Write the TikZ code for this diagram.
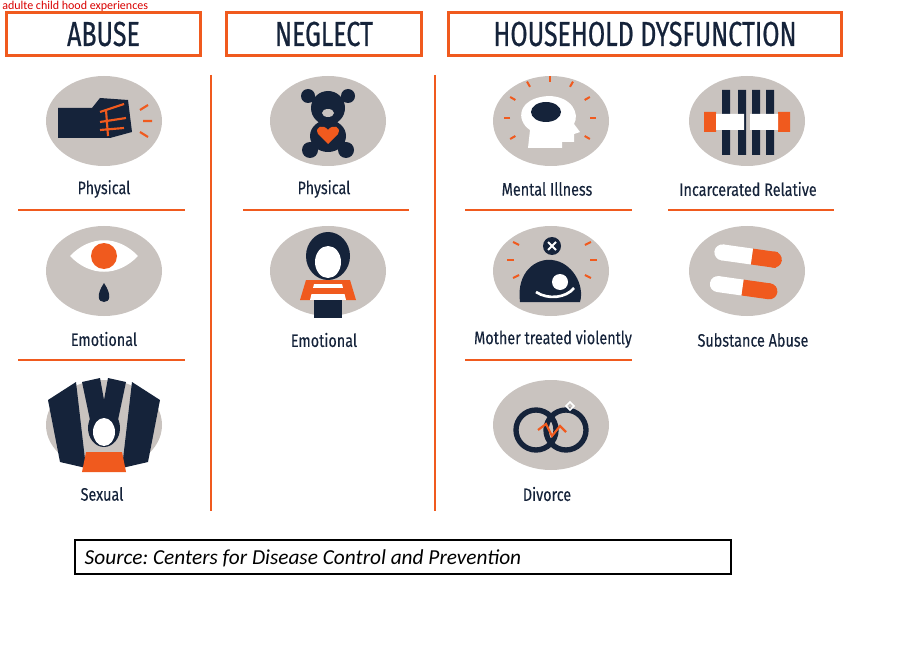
\documentclass[tikz,border=0pt]{standalone}
\usepackage{fontspec}
\newfontfamily\cond[FakeStretch=0.72,FakeBold=0.6]{Fira Sans}
\newfontfamily\condl[FakeStretch=0.8,FakeBold=0.15]{Fira Sans}
\newfontfamily\cali{Carlito}
\definecolor{og}{HTML}{F05A1E}
\definecolor{nv}{HTML}{15233A}
\definecolor{gy}{HTML}{C9C3BF}
\begin{document}
\begin{tikzpicture}[x=0.75pt,y=-0.75pt,
 hdr/.style={draw=og,line width=2.2pt,minimum height=32pt,inner sep=0pt,font=\cond\fontsize{26}{26}\selectfont,text=nv},
 lbl/.style={font=\condl\fontsize{13.5}{13.5}\selectfont,text=nv},
 ul/.style={draw=og,line width=1.8pt},
 vl/.style={draw=og,line width=2pt}]
\useasboundingbox (0,0) rectangle (909,652);
\fill[white] (0,0) rectangle (909,652);
\node[text=red!85!black,font=\cali\fontsize{9}{9}\selectfont,anchor=west,inner sep=0pt] (top) at (2,6) {adulte child hood experiences};
% headers
\node[hdr,minimum width=146pt] (h1) at (103.5,34) {ABUSE};
\node[hdr,minimum width=146pt] (h2) at (324,34) {NEGLECT};
\node[hdr,minimum width=295pt] (h3) at (645,34) {HOUSEHOLD DYSFUNCTION};
\draw[vl] (211,75) -- (211,511);
\draw[vl] (435,75) -- (435,511);
% discs
\foreach \n/\x/\y in {a1/104/121,a2/104/271,a3/104/425,n1/328/121,n2/328/271,d1/551/121,d2/551/271,d3/551/425,e1/747/121,e2/747/271}
  \fill[gy] (\x,\y) ellipse (58 and 45);
% labels
\node[lbl] (la1) at (104,189) {Physical};
\node[lbl] (la2) at (104,339) {Emotional};
\node[lbl] (la3) at (102,494) {Sexual};
\node[lbl] (ln1) at (324,189) {Physical};
\node[lbl] (ln2) at (324,340) {Emotional};
\node[lbl] (ld1) at (547,189) {Mental Illness};
\node[lbl] (ld2) at (553,339) {Mother treated violently};
\node[lbl] (ld3) at (547,494) {Divorce};
\node[lbl] (le1) at (748,189) {Incarcerated Relative};
\node[lbl] (le2) at (753,340) {Substance Abuse};
% underlines
\draw[ul] (18,210) -- (185,210); \draw[ul] (18,360) -- (185,360);
\draw[ul] (243,210) -- (409,210);
\draw[ul] (465,210) -- (632,210); \draw[ul] (465,360) -- (632,360);
\draw[ul] (668,210) -- (834,210);
% icon: fist
\fill[nv] (58,108) -- (92,108) -- (100,98) -- (128,100) -- (132,132) -- (110,138) -- (58,138) -- cycle;
\draw[og,line width=1.6pt] (100,112) -- (124,104) (100,122) -- (126,118) (100,130) -- (124,128) (106,110) -- (108,136);
\draw[og,line width=1.6pt] (140,110) -- (148,105) (143,121) -- (152,121) (140,132) -- (148,137);
% icon: eye
\fill[white] (70,256) .. controls (90,235) and (118,235) .. (138,256) .. controls (118,277) and (90,277) .. (70,256);
\fill[og] (104,256) circle (13);
\fill[nv] (104,283) .. controls (96,295) and (98,302) .. (104,302) .. controls (110,302) and (112,295) .. (104,283);
% icon: sexual
\fill[nv] (48,400) -- (76,382) -- (86,468) -- (60,462) -- cycle;
\fill[nv] (160,400) -- (132,382) -- (122,468) -- (148,462) -- cycle;
\fill[nv] (82,382) -- (100,378) -- (104,400) -- (108,378) -- (126,382) -- (118,420) -- (90,420) -- cycle;
\fill[nv] (104,428) ellipse (16 and 19);
\fill[white] (104,432) ellipse (11 and 14);
\fill[og] (82,472) -- (86,452) -- (122,452) -- (126,472) -- cycle;
% icon: teddy
\fill[nv] (308,96) circle (7) (348,96) circle (7) (328,108) circle (17) (328,136) ellipse (18 and 16) (310,150) circle (8) (346,150) circle (8);
\fill[gy] (328,113) ellipse (6 and 4);
\fill[og] (328,144) -- (318,134) .. controls (314,126) and (324,124) .. (328,130) .. controls (332,124) and (342,126) .. (338,134) -- cycle;
% icon: emotional neglect
\fill[nv] (328,256) ellipse (22 and 24);
\fill[white] (328,262) ellipse (13 and 16);
\fill[og] (300,300) -- (306,280) -- (350,280) -- (356,300) -- cycle;
\fill[white] (310,300) -- (314,284) -- (342,284) -- (346,300) -- cycle;
\fill[og] (304,288) rectangle (352,294);
\fill[nv] (314,300) rectangle (342,318);
% icon: mental illness
\fill[white] (528,148) -- (530,130) .. controls (515,120) and (518,98) .. (548,96) .. controls (572,96) and (580,114) .. (574,124) -- (580,132) -- (574,134) -- (574,142) -- (562,142) -- (562,148) -- cycle;
\fill[nv] (546,112) ellipse (15 and 10);
\foreach \a in {150,180,210,30,0,-30,90,120,60} \draw[og,line width=1.5pt] ({550+40*cos(\a)},{118-36*sin(\a)}) -- ({550+46*cos(\a)},{118-42*sin(\a)});
% icon: incarcerated
\fill[nv] (722,90) rectangle (730,155) (738,90) rectangle (746,155) (752,90) rectangle (760,155) (766,90) rectangle (774,155);
\fill[og] (704,112) rectangle (716,132) (778,112) rectangle (790,132);
\fill[white] (716,114) rectangle (744,130) (750,114) rectangle (778,130);
% icon: mother
\fill[nv] (552,246) circle (9);
\draw[white,line width=1.4pt] (548,242) -- (556,250) (556,242) -- (548,250);
\fill[nv] (520,302) .. controls (516,272) and (536,258) .. (552,260) .. controls (572,262) and (585,285) .. (580,302) -- cycle;
\fill[white] (560,282) circle (8);
\draw[white,line width=2pt] (536,292) .. controls (548,300) and (566,298) .. (574,288);
\foreach \a in {150,180,210,30,0,-30} \draw[og,line width=1.5pt] ({552+38*cos(\a)},{260-30*sin(\a)}) -- ({552+45*cos(\a)},{260-36*sin(\a)});
% icon: pills
\begin{scope}[rotate around={-8:(747,271)}]
\fill[white] (720,248) rectangle (750,264); \fill[og] (750,248) rectangle (775,264);
\fill[white] (720,256) circle (8); \fill[og] (772,256) circle (8);
\fill[white] (720,280) rectangle (745,296); \fill[og] (745,280) rectangle (772,296);
\fill[white] (720,288) circle (8); \fill[og] (772,288) circle (8);
\end{scope}
% icon: divorce
\draw[nv,line width=4pt] (536,430) circle (20);
\draw[nv,line width=4pt] (566,430) circle (20);
\draw[og,line width=1.6pt] (538,430) -- (546,424) -- (552,436) -- (560,426) -- (566,432);
\draw[white,line width=1.2pt] (566,406) -- (570,402) -- (574,406) -- (570,410) -- cycle;
% source
\node[draw=black,line width=0.8pt,minimum width=492pt,minimum height=25.5pt,inner sep=0pt] (src) at (403,557) {};
\node[anchor=west,font=\cali\itshape\fontsize{16}{16}\selectfont] (srct) at (80,558) {Source:~Centers for Disease Control and Prevention};
\end{tikzpicture}
\end{document}
